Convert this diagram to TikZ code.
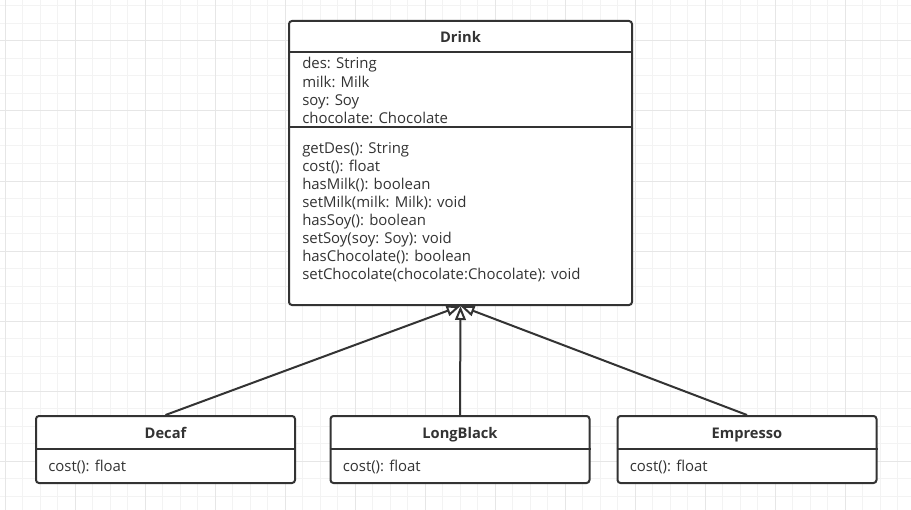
\documentclass[tikz,border=0pt]{standalone}
\usepackage{fontspec}
\setmainfont{Open Sans}
\usepackage{xcolor}
\usetikzlibrary{positioning,arrows.meta}

\definecolor{umlline}{HTML}{333333}
\definecolor{gridminor}{HTML}{F3F3F3}
\definecolor{gridmajor}{HTML}{E6E6E6}

\begin{document}
\begin{tikzpicture}[
  x=0.75pt, y=-0.75pt,
  font=\fontsize{11.2}{13.7}\selectfont,
  classbox/.style={draw=umlline, line width=1.5pt, rounded corners=2.25pt, fill=white, inner sep=0pt},
  drinkbox/.style={classbox, minimum width=257.25pt, minimum height=213pt},
  subbox/.style={classbox, minimum width=194.25pt, minimum height=50.25pt},
  cname/.style={font=\fontsize{11}{13}\selectfont\bfseries, text=umlline, inner sep=0pt, anchor=base},
  member/.style={text=umlline, inner sep=0pt, anchor=base west},
  sep/.style={umlline, line width=1.5pt},
  inherit/.style={-{Triangle[length=10.5pt, width=8pt, fill=white]}, umlline, line width=1.5pt}
]
% ----- canvas and grid -----
\useasboundingbox (0,0) rectangle (911,510);
\fill[white] (0,0) rectangle (911,510);
\foreach \k in {0,...,52}{\draw[gridminor, line width=0.75pt] ({5+17.5*\k},0) -- ({5+17.5*\k},510);}
\foreach \k in {0,...,29}{\draw[gridminor, line width=0.75pt] (0,{6+17.5*\k}) -- (911,{6+17.5*\k});}
\foreach \k in {0,...,13}{\draw[gridmajor, line width=0.75pt] ({5+70*\k},0) -- ({5+70*\k},510);}
\foreach \k in {0,...,7}{\draw[gridmajor, line width=0.75pt] (0,{-29+70*\k}) -- (911,{-29+70*\k});}
% ----- superclass -----
\node[drinkbox] (drink) at (460.5,163) {};
\node[cname] (drinkname) at ([yshift=-17.25pt]drink.north) {Drink};
\draw[sep] ([yshift=-24pt]drink.north west) -- ([yshift=-24pt]drink.north east);
\draw[sep] ([yshift=-80.25pt]drink.north west) -- ([yshift=-80.25pt]drink.north east);
\foreach \txt [count=\i from 0] in {des: String, milk: Milk, soy: Soy, chocolate: Chocolate}
  {\node[member] (attr\i) at (302,{69+18.33*\i}) {\txt};}
\foreach \txt [count=\i from 0] in {getDes(): String, cost(): float, hasMilk(): boolean,
    setMilk(milk: Milk): void, hasSoy(): boolean, setSoy(soy: Soy): void,
    hasChocolate(): boolean, setChocolate(chocolate:Chocolate): void}
  {\node[member] (meth\i) at (302,{153+18.14*\i}) {\txt};}
% ----- subclasses -----
\node[subbox] (decaf)     at (165.5,449.5) {};
\node[subbox] (longblack) at (460,449.5)   {};
\node[subbox] (empresso)  at (747,449.5)   {};
\node[cname] at ([yshift=-17.5pt]decaf.north)     {Decaf};
\node[cname] at ([yshift=-17.5pt]longblack.north) {LongBlack};
\node[cname] at ([yshift=-17.5pt]empresso.north)  {Empresso};
\foreach \c in {decaf, longblack, empresso}{
  \draw[sep] ([yshift=-25.5pt]\c.north west) -- ([yshift=-25.5pt]\c.north east);
  \node[member] (\c cost) at ([xshift=9.75pt, yshift=-42pt]\c.north west) {cost(): float};
}
% ----- generalisation arrows -----
\foreach \c in {decaf, longblack, empresso}{\draw[inherit] (\c.north) -- (drink.south);}
\end{tikzpicture}
\end{document}
